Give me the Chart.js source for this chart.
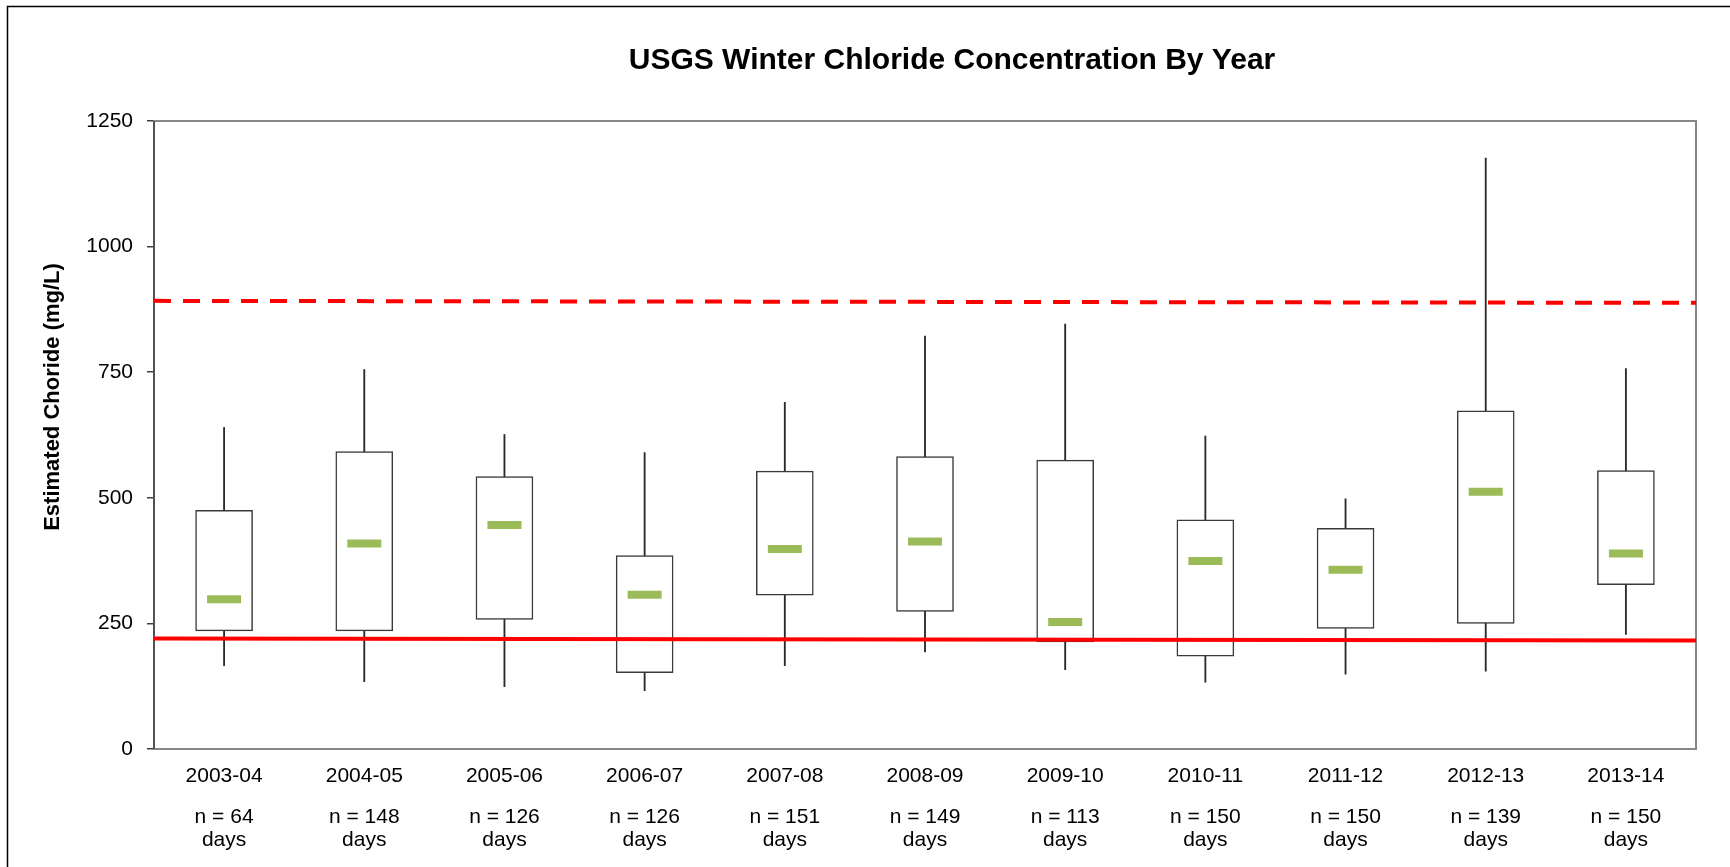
<!DOCTYPE html>
<html lang="en">
<head>
    <meta charset="UTF-8">
    <title>USGS Winter Chloride Concentration By Year</title>
    <script src="https://cdn.jsdelivr.net/npm/chart.js"></script>
    <style>
        body {
            margin: 0;
            background-color: #fff;
        }
    </style>
</head>
<body>

    <canvas id="chlorideChart" width="1730" height="867"></canvas>

    <script>
        // winter seasons and number of sampled days
        const years = ['2003-04', '2004-05', '2005-06', '2006-07', '2007-08', '2008-09',
                       '2009-10', '2010-11', '2011-12', '2012-13', '2013-14'];
        const sampleDays = [64, 148, 126, 126, 151, 149, 113, 150, 150, 139, 150];

        // box plot values, mg/L
        const whiskerLow  = [166, 134, 124, 116, 166, 193, 158, 133, 149, 155, 228];
        const boxLow      = [235, 235, 258, 152, 306, 274, 213, 185, 240, 250, 327];
        const medians     = [298, 409, 446, 307, 398, 413, 253, 374, 357, 512, 389];
        const boxHigh     = [475, 592, 542, 385, 553, 582, 575, 456, 439, 673, 554];
        const whiskerHigh = [640, 755, 626, 590, 690, 822, 846, 623, 498, 1176, 757];

        // reference lines, value at left and right edge of the plot
        const acuteLimit   = [892, 888];
        const chronicLimit = [220, 216];

        const yMin = 0;
        const yMax = 1250;
        const yStep = 250;

        const FONT = '"Liberation Sans", Arial, sans-serif';

        const nLabels = sampleDays.map(n => ['n = ' + n, 'days']);

        const decorations = {
            id: 'decorations',
            beforeDraw(chart) {
                const ctx = chart.ctx;
                ctx.save();
                ctx.fillStyle = '#fff';
                ctx.fillRect(0, 0, chart.width, chart.height);
                // outer chart border (left and top edges visible)
                ctx.strokeStyle = '#000';
                ctx.lineWidth = 1.5;
                ctx.beginPath();
                ctx.moveTo(7.5, chart.height);
                ctx.lineTo(7.5, 6.5);
                ctx.lineTo(chart.width, 6.5);
                ctx.stroke();
                ctx.restore();
            },
            beforeDatasetsDraw(chart) {
                const ctx = chart.ctx;
                const a = chart.chartArea;
                ctx.save();
                ctx.strokeStyle = '#878787';
                ctx.lineWidth = 2;
                ctx.strokeRect(a.left, a.top, a.right - a.left, a.bottom - a.top);
                ctx.strokeStyle = '#404040';
                ctx.lineWidth = 1.5;
                ctx.beginPath();
                ctx.moveTo(a.left, a.top);
                ctx.lineTo(a.left, a.bottom);
                ctx.stroke();
                ctx.restore();
            },
            afterDraw(chart) {
                const ctx = chart.ctx;
                ctx.save();
                ctx.fillStyle = '#000';
                ctx.textAlign = 'center';
                ctx.textBaseline = 'alphabetic';
                ctx.font = 'bold 30px ' + FONT;
                ctx.fillText('USGS Winter Chloride Concentration By Year', 952, 69);

                ctx.font = 'bold 22px ' + FONT;
                ctx.translate(59, 397);
                ctx.rotate(-Math.PI / 2);
                ctx.fillText('Estimated Choride (mg/L)', 0, 0);
                ctx.restore();
            }
        };

        const ctx = document.getElementById('chlorideChart').getContext('2d');

        new Chart(ctx, {
            type: 'bar',
            data: {
                labels: years,
                datasets: [
                    {
                        type: 'line',
                        label: 'Chronic',
                        xAxisID: 'xl',
                        data: [{ x: 0, y: chronicLimit[0] }, { x: 1, y: chronicLimit[1] }],
                        borderColor: '#ff0000',
                        borderWidth: 4,
                        pointRadius: 0
                    },
                    {
                        type: 'line',
                        label: 'Acute',
                        xAxisID: 'xl',
                        data: [{ x: 0, y: acuteLimit[0] }, { x: 1, y: acuteLimit[1] }],
                        borderColor: '#ff0000',
                        borderWidth: 4,
                        borderDash: [17, 12],
                        pointRadius: 0
                    },
                    {
                        type: 'line',
                        label: 'Median',
                        data: medians,
                        showLine: false,
                        pointStyle: 'line',
                        pointRadius: 17,
                        pointHoverRadius: 17,
                        pointBorderWidth: 8,
                        pointHoverBorderWidth: 8,
                        pointBorderColor: '#9bbb59',
                        pointBackgroundColor: '#9bbb59'
                    },
                    {
                        type: 'bar',
                        label: 'Box',
                        data: boxLow.map((v, i) => [v, boxHigh[i]]),
                        backgroundColor: '#fff',
                        borderColor: '#3a3a3a',
                        borderWidth: 1.5,
                        borderSkipped: false,
                        barThickness: 57,
                        grouped: false
                    },
                    {
                        type: 'bar',
                        label: 'Whisker',
                        data: whiskerLow.map((v, i) => [v, whiskerHigh[i]]),
                        backgroundColor: '#2a2a2a',
                        borderWidth: 0,
                        barThickness: 1.2,
                        grouped: false
                    }
                ]
            },
            options: {
                responsive: false,
                animation: false,
                layout: {
                    padding: { left: 87, right: 34, top: 121, bottom: 15 }
                },
                plugins: {
                    legend: { display: false },
                    tooltip: { enabled: false },
                    title: { display: false }
                },
                scales: {
                    x: {
                        type: 'category',
                        position: 'bottom',
                        grid: { display: false, drawTicks: false },
                        border: { display: false },
                        ticks: {
                            color: '#000',
                            padding: 15,
                            maxRotation: 0,
                            autoSkip: false,
                            font: { family: FONT, size: 21, lineHeight: 1.12 }
                        },
                        afterFit(scale) { scale.height = 37; }
                    },
                    x2: {
                        type: 'category',
                        position: 'bottom',
                        labels: nLabels,
                        offset: true,
                        grid: { display: false, drawTicks: false },
                        border: { display: false },
                        ticks: {
                            color: '#000',
                            padding: 19,
                            maxRotation: 0,
                            autoSkip: false,
                            font: { family: FONT, size: 21, lineHeight: 1.12 }
                        },
                        afterFit(scale) { scale.height = 66; }
                    },
                    xl: {
                        type: 'linear',
                        display: false,
                        offset: false,
                        min: 0,
                        max: 1
                    },
                    y: {
                        min: yMin,
                        max: yMax,
                        border: { display: false },
                        grid: {
                            drawOnChartArea: false,
                            drawTicks: true,
                            tickLength: 7,
                            color: '#404040',
                            lineWidth: 1.5
                        },
                        ticks: {
                            stepSize: yStep,
                            color: '#000',
                            padding: 14,
                            font: { family: FONT, size: 21 },
                            callback: value => String(value)
                        },
                        afterFit(scale) { scale.width = 67; }
                    }
                }
            },
            plugins: [decorations]
        });
    </script>

</body>
</html>
